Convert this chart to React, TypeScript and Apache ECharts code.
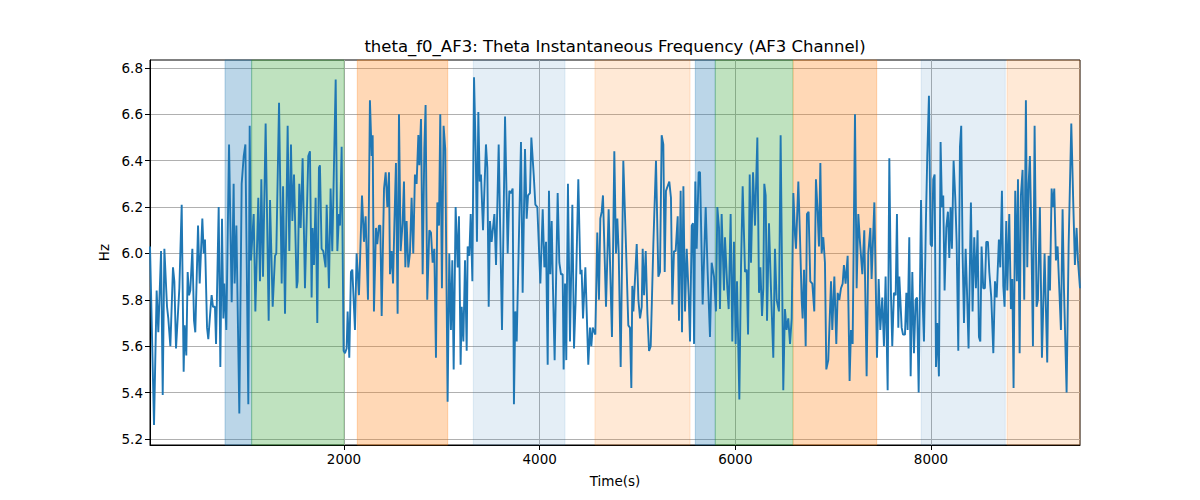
import React, { useEffect, useRef } from "react";
import * as echarts from "echarts";

const titleText = "theta_f0_AF3: Theta Instantaneous Frequency (AF3 Channel)";
const xName = "Time(s)";
const yName = "Hz";

const xMin = 17;
const xMax = 9523;
const yMin = 5.174;
const yMax = 6.834;
const xTicks = [2000, 4000, 6000, 8000];
const yTicks = [5.2, 5.4, 5.6, 5.8, 6.0, 6.2, 6.4, 6.6, 6.8];

const spanStart = [784, 1056, 2136, 3322, 4565, 5591, 5795, 6592, 7900, 8777];
const spanEnd = [1056, 2000, 3060, 4259, 5537, 5795, 6588, 7445, 8759, 9523];
const spanColor = [
  "rgba(31,119,180,0.3)",
  "rgba(44,160,44,0.3)",
  "rgba(255,127,14,0.3)",
  "rgba(31,119,180,0.12)",
  "rgba(255,127,14,0.17)",
  "rgba(31,119,180,0.3)",
  "rgba(44,160,44,0.3)",
  "rgba(255,127,14,0.3)",
  "rgba(31,119,180,0.12)",
  "rgba(255,127,14,0.17)",
];

const timeS = [
  17, 58, 85, 102, 130, 147, 164, 191, 204, 225, 252, 266, 283, 317, 341, 361, 371, 388, 402, 416,
  429, 450, 467, 480, 508, 525, 552, 566, 579, 600, 613, 637, 647, 661, 681, 692, 719, 736, 753, 767,
  777, 797, 825, 852, 872, 882, 900, 930, 954, 975, 992, 1022, 1036, 1049, 1077, 1094, 1124, 1141, 1155, 1172,
  1199, 1230, 1244, 1271, 1295, 1308, 1336, 1363, 1377, 1397, 1424, 1441, 1458, 1472, 1489, 1516, 1526, 1543, 1557, 1577,
  1601, 1635, 1652, 1669, 1679, 1693, 1710, 1727, 1744, 1754, 1771, 1788, 1812, 1823, 1846, 1863, 1880, 1891, 1915, 1932,
  1949, 1959, 1976, 1996, 2010, 2027, 2037, 2054, 2071, 2085, 2112, 2129, 2153, 2184, 2204, 2221, 2245, 2265, 2283, 2293,
  2306, 2327, 2340, 2357, 2371, 2385, 2409, 2426, 2443, 2460, 2470, 2487, 2501, 2514, 2531, 2548, 2562, 2579, 2599, 2613,
  2627, 2640, 2657, 2674, 2691, 2708, 2725, 2742, 2760, 2770, 2787, 2804, 2821, 2834, 2851, 2872, 2889, 2906, 2923, 2940,
  2954, 2971, 2984, 3001, 3018, 3035, 3059, 3076, 3093, 3107, 3121, 3141,
  3162, 3175, 3192, 3203, 3220, 3237, 3254, 3264, 3281, 3295, 3312, 3329, 3346, 3359, 3373, 3387, 3400, 3421, 3451, 3465,
  3479, 3492, 3509, 3537, 3554, 3581, 3615, 3646, 3673, 3690, 3707, 3724, 3737, 3751, 3765, 3809, 3826, 3850, 3867, 3881,
  3901, 3915, 3939, 3956, 3976, 4007, 4031, 4048, 4065, 4082, 4095, 4109, 4123, 4136, 4153, 4184, 4201, 4218, 4235, 4245,
  4259, 4272, 4289, 4310, 4334, 4351, 4368, 4395, 4416, 4429, 4443, 4467, 4497, 4514, 4528, 4542, 4569, 4589, 4606, 4620,
  4634, 4647, 4678, 4705, 4739, 4763,
  4780, 4794, 4808, 4828, 4855, 4883, 4906, 4923, 4937, 4947, 4958, 4971, 4992, 5009, 5026, 5043, 5053, 5067, 5084, 5101,
  5118, 5135, 5162, 5189, 5213, 5230, 5247, 5264, 5278, 5291, 5325, 5342, 5356, 5373, 5390, 5411, 5424, 5441, 5455, 5469,
  5486, 5503, 5523, 5537, 5554, 5567, 5578, 5591, 5605, 5625, 5639, 5666, 5697, 5717, 5741, 5758, 5782, 5802, 5816, 5833,
  5843, 5860, 5884, 5894, 5918, 5932, 5952, 5969, 5986, 6003, 6017, 6041, 6058, 6075, 6099, 6116, 6130, 6147, 6160, 6181,
  6201, 6211, 6225, 6242, 6256, 6273, 6286, 6296, 6310, 6324,
  6344, 6364, 6388, 6405, 6422, 6446, 6463, 6490, 6507, 6524, 6541, 6559, 6576, 6593, 6610, 6620, 6644, 6661, 6678, 6688,
  6702, 6719, 6732, 6749, 6766, 6787, 6807, 6824, 6841, 6855, 6869, 6882, 6899, 6916, 6930, 6950, 6978, 6991, 7012, 7032,
  7046, 7063, 7080, 7097, 7110, 7127, 7148, 7168, 7182, 7199, 7223, 7240, 7257, 7274, 7298, 7318, 7342, 7359, 7380, 7393,
  7421, 7448, 7465, 7482, 7502, 7519, 7536, 7557, 7574, 7591, 7604, 7621, 7639, 7652, 7666, 7676, 7700, 7714, 7734, 7748,
  7761, 7778, 7792, 7809, 7826, 7843, 7857, 7874, 7898,
  7914, 7928, 7948, 7962, 7979, 7996, 8010, 8023, 8037, 8051, 8064, 8081, 8098, 8112, 8125, 8139, 8156, 8173, 8187, 8200,
  8214, 8231, 8248, 8262, 8279, 8296, 8309, 8323, 8337, 8354, 8367, 8384, 8408, 8425, 8442, 8459, 8476, 8490, 8504, 8517,
  8534, 8551, 8565, 8582, 8596, 8616, 8637, 8654, 8671, 8694, 8708, 8725, 8739, 8752, 8769, 8780, 8800, 8817, 8831, 8844,
  8861, 8878, 8889, 8906, 8919, 8936, 8953, 8970, 8984, 8998, 9011, 9025, 9042, 9059, 9079, 9093, 9113, 9134, 9161, 9188,
  9202, 9216, 9233, 9246, 9260, 9277, 9294, 9311, 9328, 9345, 9359, 9386, 9407, 9434, 9454, 9471, 9488, 9502, 9523,
];

const hz = [
  6.03, 5.26, 5.84, 5.66, 6.01, 5.39, 6.02, 5.77, 5.72, 5.60, 5.94, 5.88, 5.59, 5.85, 6.21, 5.49, 5.69, 5.56, 5.92, 5.82,
  5.84, 6.02, 5.71, 5.66, 6.12, 5.87, 6.15, 6.00, 6.06, 5.68, 5.63, 5.77, 5.82, 5.77, 5.77, 5.61, 6.20, 5.51, 6.15, 5.72,
  5.87, 5.67, 6.47, 5.79, 6.30, 5.87, 6.12, 5.31, 6.30, 6.42, 6.47, 5.35, 6.55, 5.97, 6.17, 5.75, 6.24, 5.88, 6.32, 5.90,
  6.56, 5.71, 6.23, 5.77, 5.99, 6.00, 6.65, 5.87, 6.29, 5.74, 6.55, 6.01, 6.47, 6.14, 6.34, 5.85, 5.88, 6.30, 6.11, 6.41,
  5.85, 6.42, 6.44, 5.81, 6.11, 5.95, 6.24, 5.70, 6.37, 6.38, 6.02, 6.01, 5.94, 6.21, 5.85, 6.28, 6.01, 6.24, 6.75, 6.01,
  6.17, 6.12, 6.46, 5.58, 5.57, 5.59, 5.75, 5.55, 5.92, 5.93, 5.67, 6.00, 5.82, 6.25, 6.05, 6.16, 5.80, 6.66, 6.42, 6.51,
  5.75, 6.11, 6.04, 6.12, 6.12, 5.73, 6.28, 6.35, 6.20, 6.35, 5.91, 6.01, 5.87, 6.11, 6.39, 5.74, 6.60, 6.01, 6.13, 6.31,
  5.94, 6.14, 5.94, 6.00, 6.24, 6.00, 6.34, 6.30, 6.51, 6.38, 6.58, 5.91, 6.45, 6.64, 5.80, 6.10, 6.09, 5.96, 6.02, 5.55,
  6.22, 6.12, 6.60, 5.85, 6.55, 6.45, 5.36, 6.00, 5.67, 5.97, 5.50, 6.20,
  5.94, 6.16, 5.52, 5.77, 5.62, 5.97, 5.58, 6.03, 5.99, 6.17, 5.88, 6.76, 6.44, 6.05, 6.61, 6.31, 6.34, 6.10, 6.47, 6.37,
  5.77, 6.14, 6.05, 6.17, 5.95, 6.47, 5.67, 6.59, 6.00, 6.27, 6.26, 6.28, 5.35, 5.75, 5.62, 6.48, 5.83, 6.45, 6.15, 6.25,
  6.26, 6.50, 6.34, 6.21, 6.20, 5.87, 6.19, 5.94, 6.05, 5.52, 6.27, 5.91, 6.14, 5.85, 5.54, 6.26, 5.96, 5.91, 5.91, 5.50,
  5.87, 5.54, 6.30, 5.62, 6.21, 5.59, 5.80, 6.32, 5.91, 5.93, 5.72, 5.94, 5.52, 5.68, 5.60, 5.68, 5.65, 6.09, 5.80, 6.15,
  6.18, 6.25, 5.77, 6.19, 5.64, 6.44,
  6.00, 6.15, 6.00, 5.51, 6.40, 6.02, 5.69, 5.68, 5.42, 5.86, 5.75, 5.86, 6.04, 5.80, 5.72, 5.77, 6.02, 5.82, 6.01, 5.74,
  5.58, 5.60, 6.04, 6.40, 5.90, 5.92, 6.51, 6.47, 5.92, 6.27, 6.31, 6.24, 5.78, 6.01, 6.01, 6.16, 5.71, 6.27, 5.66, 6.29,
  5.75, 6.02, 5.82, 5.62, 6.12, 6.13, 5.61, 6.31, 6.02, 6.35, 6.35, 5.78, 6.20, 5.92, 5.64, 5.96, 5.90, 5.75, 6.20, 6.11,
  5.76, 6.17, 5.84, 6.07, 5.85, 5.76, 6.17, 5.62, 6.05, 5.61, 5.88, 5.37, 5.94, 6.29, 5.92, 5.93, 5.65, 6.34, 5.96, 6.35,
  6.12, 6.28, 6.50, 5.83, 5.94, 5.73, 5.85, 6.30, 6.25, 5.71,
  6.13, 5.85, 5.55, 6.02, 5.80, 5.75, 6.51, 5.41, 5.76, 5.67, 5.72, 5.61, 5.72, 6.26, 6.08, 6.02, 6.31, 6.07, 5.80, 5.72,
  5.93, 5.60, 6.17, 6.18, 5.88, 5.87, 5.75, 6.32, 6.18, 6.03, 6.39, 6.00, 6.07, 5.96, 5.50, 5.54, 5.88, 5.67, 5.90, 5.61,
  5.83, 5.80, 5.85, 5.87, 5.95, 5.87, 5.99, 5.45, 5.67, 5.61, 6.60, 5.85, 6.17, 6.05, 5.91, 6.10, 5.47, 6.00, 6.11, 5.89,
  6.22, 5.55, 5.89, 5.67, 5.81, 5.60, 5.90, 5.41, 6.41, 5.82, 5.60, 5.83, 5.82, 6.17, 5.68, 5.90, 5.68, 5.65, 5.65, 5.83,
  5.67, 6.07, 5.47, 5.92, 5.57, 5.80, 5.81, 5.40, 6.23,
  5.80, 5.62, 6.14, 6.42, 6.68, 6.04, 6.03, 6.32, 6.34, 5.51, 5.70, 5.47, 6.48, 6.20, 6.25, 5.84, 6.11, 6.18, 5.98, 6.20,
  6.02, 6.40, 6.24, 6.05, 5.58, 6.46, 6.55, 6.00, 5.70, 6.02, 5.85, 5.59, 6.22, 5.75, 6.07, 5.85, 6.10, 5.64, 5.62, 6.03,
  5.85, 5.85, 6.05, 6.05, 5.92, 5.81, 5.57, 5.88, 5.81, 6.06, 5.94, 6.27, 5.86, 5.77, 6.14, 5.84, 6.17, 5.76, 5.89, 5.42,
  6.27, 5.88, 6.32, 5.57, 6.25, 6.36, 5.80, 6.66, 5.94, 6.30, 6.42, 6.10, 5.60, 6.55, 5.77, 5.80, 6.20, 5.55, 6.00, 5.53,
  5.99, 5.84, 6.28, 6.20, 6.28, 5.97, 6.03, 5.85, 5.67, 6.19, 5.85, 5.40, 6.04, 6.56, 6.22, 5.95, 6.11, 5.97, 5.85,
];

const FONT = "DejaVu Sans";

export default function App() {
  const ref = useRef<HTMLDivElement>(null);
  useEffect(() => {
    if (!ref.current) return;
    const chart = echarts.init(ref.current, null, { renderer: "svg" });
    const points = timeS.map((t, i) => [t, hz[i]]);
    const areas = spanStart.map((s, i) => [
      {
        xAxis: s,
        itemStyle: { color: spanColor[i], borderColor: spanColor[i], borderWidth: 1 },
      },
      { xAxis: spanEnd[i] },
    ]);
    chart.setOption({
      animation: false,
      backgroundColor: "#ffffff",
      textStyle: { fontFamily: FONT },
      grid: {
        left: 150,
        right: 120,
        top: 60,
        bottom: 55,
        show: true,
        borderColor: "#000000",
        borderWidth: 1,
        backgroundColor: "transparent",
        containLabel: false,
      },
      graphic: [
        {
          type: "text",
          x: 615,
          y: 46,
          style: {
            text: titleText,
            fontFamily: FONT,
            fontSize: 16.5,
            fill: "#000000",
            textAlign: "center",
            textVerticalAlign: "middle",
          },
        },
      ],
      xAxis: {
        type: "value",
        min: xMin,
        max: xMax,
        name: xName,
        nameLocation: "middle",
        nameGap: 29,
        nameTextStyle: { fontFamily: FONT, fontSize: 13.5, color: "#000" },
        axisLine: { show: true, lineStyle: { color: "#000", width: 1 } },
        axisTick: {
          show: true,
          length: 5,
          lineStyle: { color: "#000", width: 1 },
          customValues: xTicks,
        },
        axisLabel: {
          customValues: xTicks,
          fontFamily: FONT,
          fontSize: 13.5,
          color: "#000",
          margin: 7,
          formatter: (v: number) => String(v),
        },
        splitLine: { show: true, lineStyle: { color: "#b0b0b0", width: 1 } },
      },
      yAxis: {
        type: "value",
        min: yMin,
        max: yMax,
        name: yName,
        nameLocation: "middle",
        nameGap: 38,
        nameRotate: 90,
        nameTextStyle: { fontFamily: FONT, fontSize: 13.5, color: "#000" },
        axisLine: { show: true, lineStyle: { color: "#000", width: 1 } },
        axisTick: {
          show: true,
          length: 5,
          lineStyle: { color: "#000", width: 1 },
          customValues: yTicks,
        },
        axisLabel: {
          customValues: yTicks,
          fontFamily: FONT,
          fontSize: 13.5,
          color: "#000",
          margin: 7,
          formatter: (v: number) => v.toFixed(1),
        },
        splitLine: { show: true, lineStyle: { color: "#b0b0b0", width: 1 } },
      },
      series: [
        {
          type: "line",
          data: points,
          showSymbol: false,
          symbol: "none",
          lineStyle: { color: "#1f77b4", width: 1.9 },
          itemStyle: { color: "#1f77b4" },
          z: 3,
          markArea: {
            silent: true,
            z: 1,
            data: areas,
          },
        },
      ],
    });
    return () => chart.dispose();
  }, []);
  return (
    <div
      ref={ref}
      style={{ position: "fixed", left: 0, top: 0, width: 1200, height: 500 }}
    />
  );
}
